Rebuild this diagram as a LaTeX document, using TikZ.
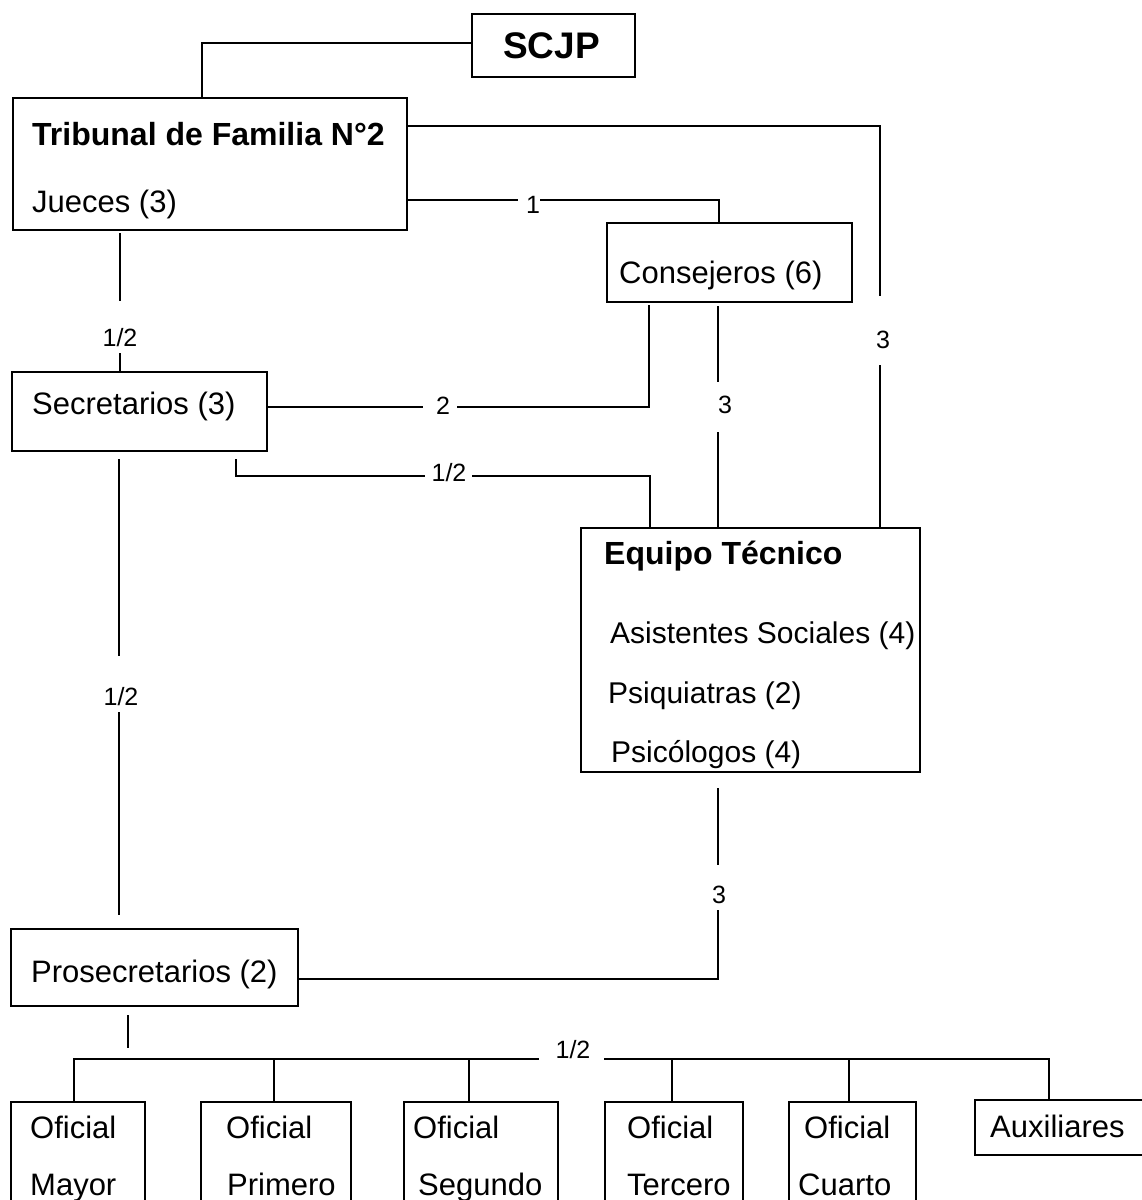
\documentclass[tikz,border=0pt]{standalone}
\usepackage{fontspec}
\setmainfont{Liberation Sans}
\usetikzlibrary{calc}
\begin{document}
\begin{tikzpicture}[x=1pt,y=-1pt,
  box/.style={draw, line width=2.2pt, inner sep=0pt, anchor=north west},
  conn/.style={line width=1.8pt},
  txt/.style={inner sep=0pt, anchor=base west, font=\fontsize{31}{37}\selectfont},
  stxt/.style={inner sep=0pt, anchor=base west, font=\fontsize{30}{36}\selectfont},
  btxt/.style={inner sep=0pt, anchor=base west, font=\fontsize{32}{38}\selectfont\bfseries},
  lab/.style={inner sep=0pt, font=\fontsize{25}{29}\selectfont}]
\useasboundingbox (0,0) rectangle (1142,1200);
\clip (0,0) rectangle (1142,1200);
\fill[white] (0,0) rectangle (1142,1200);

% ---------- boxes ----------
\node[box, minimum width=163pt, minimum height=63pt]  (scjp) at (471,13)  {};
\node[box, minimum width=394pt, minimum height=132pt] (tri)  at (12,97)   {};
\node[box, minimum width=245pt, minimum height=79pt]  (cons) at (606,222) {};
\node[box, minimum width=255pt, minimum height=79pt]  (sec)  at (11,371)  {};
\node[box, minimum width=339pt, minimum height=244pt] (eq)   at (580,527) {};
\node[box, minimum width=287pt, minimum height=77pt]  (pros) at (10,928)  {};
\node[box, minimum width=134pt, minimum height=130pt] (om)   at (10,1101) {};
\node[box, minimum width=150pt, minimum height=130pt] (op)   at (200,1101) {};
\node[box, minimum width=154pt, minimum height=130pt] (os)   at (403,1101) {};
\node[box, minimum width=138pt, minimum height=130pt] (ot)   at (604,1101) {};
\node[box, minimum width=127pt, minimum height=130pt] (oc)   at (788,1101) {};
\node[box, minimum width=190pt, minimum height=55pt]  (aux)  at (974,1099) {};

% ---------- texts ----------
\node[inner sep=0pt, anchor=base west, font=\fontsize{37}{42}\selectfont\bfseries] (tscjp) at (503,58) {SCJP};
\node[btxt] (ttri)  at (32,145) {Tribunal de Familia N°2};
\node[txt]  (tjue)  at (32,212) {Jueces (3)};
\node[txt]  (tcons) at (619,283) {Consejeros (6)};
\node[txt]  (tsec)  at (32,414) {Secretarios (3)};
\node[btxt] (teq)   at (604,564) {Equipo Técnico};
\node[stxt] (tasi)  at (610,643) {Asistentes Sociales (4)};
\node[stxt] (tpsq)  at (608,703) {Psiquiatras (2)};
\node[stxt] (tpsc)  at (611,762) {Psicólogos (4)};
\node[txt]  (tpros) at (31,982) {Prosecretarios (2)};
\node[txt] (om1) at (30,1138)  {Oficial};
\node[txt] (om2) at (30,1195)  {Mayor};
\node[txt] (op1) at (226,1138) {Oficial};
\node[txt] (op2) at (227,1195) {Primero};
\node[txt] (os1) at (413,1138) {Oficial};
\node[txt] (os2) at (418,1195) {Segundo};
\node[txt] (ot1) at (627,1138) {Oficial};
\node[txt] (ot2) at (627,1195) {Tercero};
\node[txt] (oc1) at (804,1138) {Oficial};
\node[txt] (oc2) at (798,1195) {Cuarto};
\node[txt] (tax) at (990,1137) {Auxiliares};

% ---------- connector labels ----------
\node[lab] (l2)  at (883,340) {3};
\node[lab] (l3)  at (533,205) {1};
\node[lab] (l4)  at (120,338) {1/2};
\node[lab] (l5)  at (443,406) {2};
\node[lab] (l6)  at (725,405) {3};
\node[lab] (l7)  at (449,473) {1/2};
\node[lab] (l8)  at (121,697) {1/2};
\node[lab] (l9)  at (719,895) {3};
\node[lab] (l11) at (573,1050) {1/2};

% ---------- connector points ----------
\coordinate (k1)  at (202,43);
\coordinate (k2)  at (880,126);
\coordinate (g2a) at (880,296);
\coordinate (g2b) at (880,365);
\coordinate (g3a) at (518,200);
\coordinate (g3b) at (540,200);
\coordinate (k3)  at (719,200);
\coordinate (g4a) at (120,233);
\coordinate (g4b) at (120,301);
\coordinate (g4c) at (120,353);
\coordinate (g5a) at (423,407);
\coordinate (g5b) at (457,407);
\coordinate (k5)  at (649,407);
\coordinate (g5c) at (649,305);
\coordinate (g6a) at (718,306);
\coordinate (g6b) at (718,382);
\coordinate (g6c) at (718,432);
\coordinate (g7a) at (236,459);
\coordinate (k7a) at (236,476);
\coordinate (g7b) at (425,476);
\coordinate (g7c) at (472,476);
\coordinate (k7b) at (650,476);
\coordinate (g8a) at (119,459);
\coordinate (g8b) at (119,656);
\coordinate (g8c) at (119,712);
\coordinate (g8d) at (119,915);
\coordinate (g9a) at (718,788);
\coordinate (g9b) at (718,865);
\coordinate (g9c) at (718,910);
\coordinate (k9)  at (718,979);
\coordinate (g10a) at (128,1015);
\coordinate (g10b) at (128,1048);
\coordinate (k11a) at (74,1059);
\coordinate (g11a) at (539,1059);
\coordinate (g11b) at (604,1059);
\coordinate (k11b) at (1049,1059);
\coordinate (d1) at (274,1059);
\coordinate (d2) at (469,1059);
\coordinate (d3) at (672,1059);
\coordinate (d4) at (849,1059);

% ---------- connectors ----------
\draw[conn] (scjp.west |- k1) -- (k1) -- (k1 |- tri.north);
\draw[conn] (tri.east |- k2) -- (k2) -- (g2a);
\draw[conn] (g2b) -- (g2b |- eq.north);
\draw[conn] (tri.east |- g3a) -- (g3a);
\draw[conn] (g3b) -- (k3) -- (k3 |- cons.north);
\draw[conn] (g4a) -- (g4b);
\draw[conn] (g4c) -- (g4c |- sec.north);
\draw[conn] (sec.east |- g5a) -- (g5a);
\draw[conn] (g5b) -- (k5) -- (g5c);
\draw[conn] (g6a) -- (g6b);
\draw[conn] (g6c) -- (g6c |- eq.north);
\draw[conn] (g7a) -- (k7a) -- (g7b);
\draw[conn] (g7c) -- (k7b) -- (k7b |- eq.north);
\draw[conn] (g8a) -- (g8b);
\draw[conn] (g8c) -- (g8d);
\draw[conn] (g9a) -- (g9b);
\draw[conn] (g9c) -- (k9) -- (pros.east |- k9);
\draw[conn] (g10a) -- (g10b);
\draw[conn] (k11a |- om.north) -- (k11a) -- (g11a);
\draw[conn] (g11b) -- (k11b) -- (k11b |- aux.north);
\draw[conn] (d1) -- (d1 |- op.north);
\draw[conn] (d2) -- (d2 |- os.north);
\draw[conn] (d3) -- (d3 |- ot.north);
\draw[conn] (d4) -- (d4 |- oc.north);
\end{tikzpicture}
\end{document}
